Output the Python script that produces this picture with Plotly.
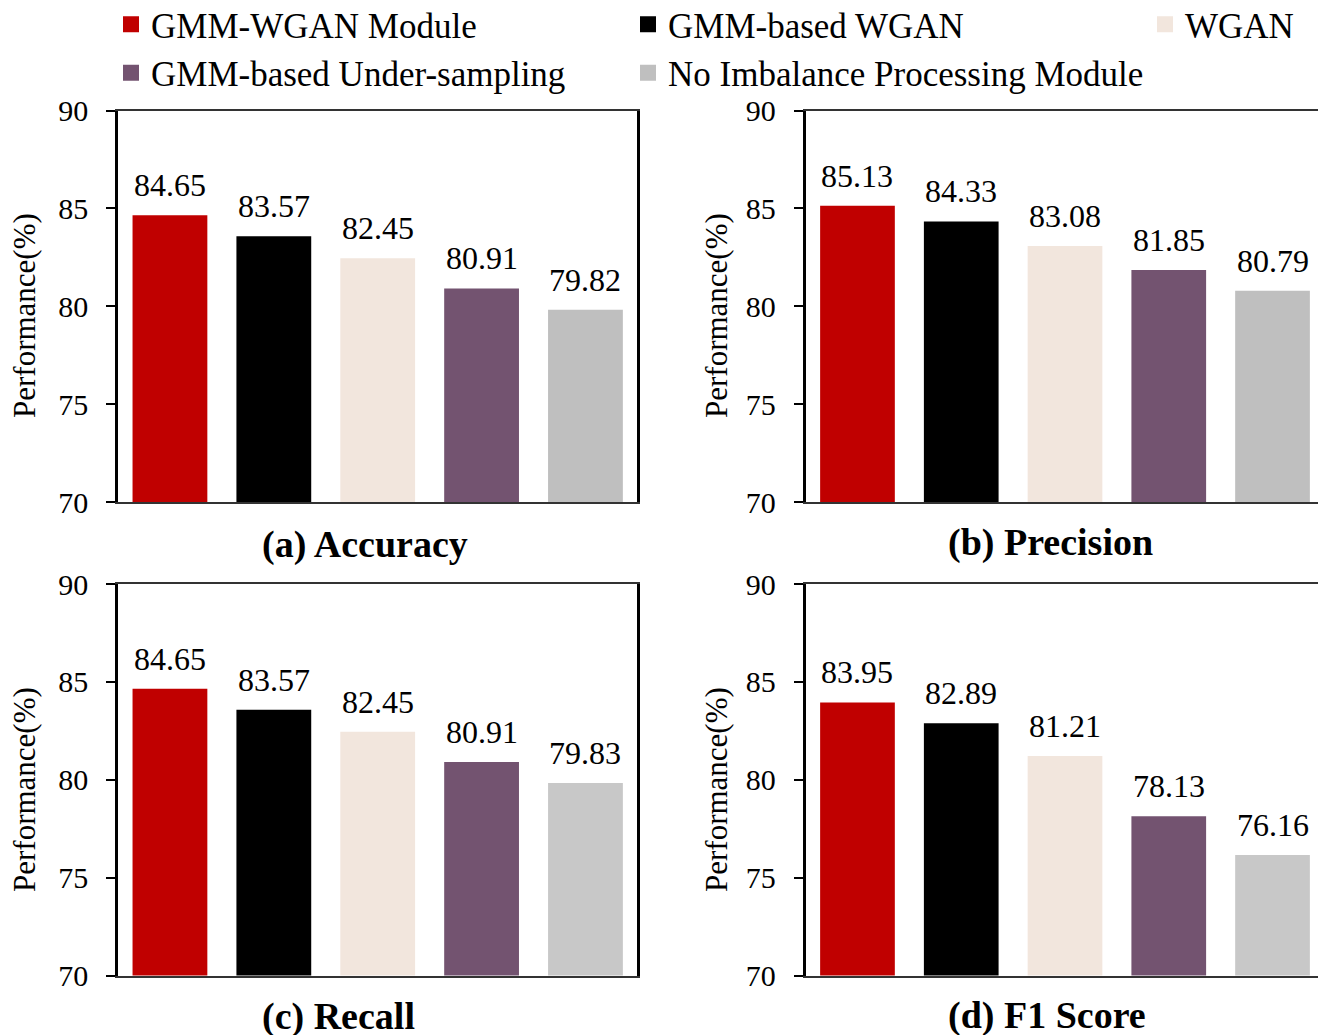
import plotly.graph_objects as go

# ---------------- data ----------------
methods = ["GMM-WGAN Module", "GMM-based WGAN", "WGAN",
           "GMM-based Under-sampling", "No Imbalance Processing Module"]
colors_ab = ["#C00000", "#000000", "#F2E6DD", "#735370", "#BFBFBF"]
colors_cd = ["#C00000", "#000000", "#F2E6DD", "#735370", "#C8C8C8"]
accuracy = [84.65, 83.57, 82.45, 80.91, 79.82]
precision = [85.13, 84.33, 83.08, 81.85, 80.79]
recall = [84.65, 83.57, 82.45, 80.91, 79.83]
f1_score = [83.95, 82.89, 81.21, 78.13, 76.16]
panel_titles = ["(a) Accuracy", "(b) Precision", "(c) Recall", "(d) F1 Score"]
y_ticks = [70, 75, 80, 85, 90]
y_title = "Performance(%)"

FONT = "Liberation Serif, Times New Roman, serif"
W, H = 1326, 1035
OFF = 8  # page body margin offset in the browser

panels = [
    (accuracy, colors_ab, "x", "y"),
    (precision, colors_ab, "x2", "y2"),
    (recall, colors_cd, "x3", "y3"),
    (f1_score, colors_cd, "x4", "y4"),
]

fig = go.Figure()

for vals, cols, xa, ya in panels:
    fig.add_trace(go.Bar(
        x=methods, y=vals, marker=dict(color=cols, line=dict(width=0)),
        showlegend=False, xaxis=xa, yaxis=ya, hoverinfo="skip",
    ))

# legend entries (three separate legends to mimic the column layout)
legend_of = ["legend", "legend2", "legend3", "legend", "legend2"]
for name, col, lg in zip(methods, colors_ab, legend_of):
    fig.add_trace(go.Scatter(
        x=[None], y=[None], mode="markers", name=name,
        marker=dict(symbol="square", size=19, color=col, line=dict(width=0)),
        legend=lg, xaxis="x", yaxis="y", showlegend=True,
    ))

def fx(px):
    return (px - OFF) / W

def fy(py):
    return 1 - (py - OFF) / H

xdom_left = [fx(118), fx(637.4)]
xdom_right = [fx(805.6), fx(1324.4)]
ydom_top = [fy(502), fy(110.5)]
ydom_bot = [fy(975.5), fy(584)]

xcommon = dict(showticklabels=False, ticks="", showline=True, linecolor="#333333",
               linewidth=1.5, mirror=True, showgrid=False, zeroline=False,
               automargin=False)
ycommon = dict(range=[70, 90], tickvals=y_ticks, ticks="outside", ticklen=9,
               tickwidth=1.5, tickcolor="black", showline=True, linewidth=2.5,
               linecolor="black", mirror=True, showgrid=False, zeroline=False,
               tickfont=dict(family=FONT, size=30, color="black"),
               ticklabelstandoff=12, automargin=False)

legend_common = dict(font=dict(family=FONT, size=35, color="black"),
                     bgcolor="rgba(0,0,0,0)", orientation="v", tracegroupgap=0,
                     itemsizing="trace", xanchor="left", yanchor="top",
                     y=1 + 13 / H, borderwidth=0)

fig.update_layout(
    template="none",
    width=W, height=H,
    margin=dict(l=0, r=0, t=0, b=0, pad=0, autoexpand=False),
    paper_bgcolor="white", plot_bgcolor="white",
    font=dict(family=FONT, color="black"),
    bargap=0.28,
    xaxis=dict(domain=xdom_left, anchor="y", **xcommon),
    yaxis=dict(domain=ydom_top, anchor="x", **ycommon),
    xaxis2=dict(domain=xdom_right, anchor="y2", **xcommon),
    yaxis2=dict(domain=ydom_top, anchor="x2", **ycommon),
    xaxis3=dict(domain=xdom_left, anchor="y3", **xcommon),
    yaxis3=dict(domain=ydom_bot, anchor="x3", **ycommon),
    xaxis4=dict(domain=xdom_right, anchor="y4", **xcommon),
    yaxis4=dict(domain=ydom_bot, anchor="x4", **ycommon),
    legend=dict(x=fx(111), **legend_common),
    legend2=dict(x=fx(628), **legend_common),
    legend3=dict(x=fx(1145), **legend_common),
    showlegend=True,
)

annotations = []
for vals, cols, xa, ya in panels:
    for m, v in zip(methods, vals):
        annotations.append(dict(
            x=m, y=v, xref=xa, yref=ya, text=f"{v:.2f}", showarrow=False,
            yanchor="bottom", yshift=10,
            font=dict(family=FONT, size=32, color="black"),
        ))

for xc, yc in [(24, 316), (716, 316), (24, 790), (716, 790)]:
    annotations.append(dict(
        x=fx(xc), y=fy(yc), xref="paper", yref="paper", text=y_title,
        textangle=-90, showarrow=False, xanchor="center", yanchor="middle",
        font=dict(family=FONT, size=31, color="black"),
    ))

for t, (xl, yc) in zip(panel_titles, [(260, 544), (946, 542), (260, 1016), (946, 1015)]):
    annotations.append(dict(
        x=fx(xl), y=fy(yc), xref="paper", yref="paper", text=f"<b>{t}</b>",
        showarrow=False, xanchor="left", yanchor="middle",
        font=dict(family=FONT, size=38, color="black"),
    ))

fig.update_layout(annotations=annotations)

fig.write_html("out.html")
